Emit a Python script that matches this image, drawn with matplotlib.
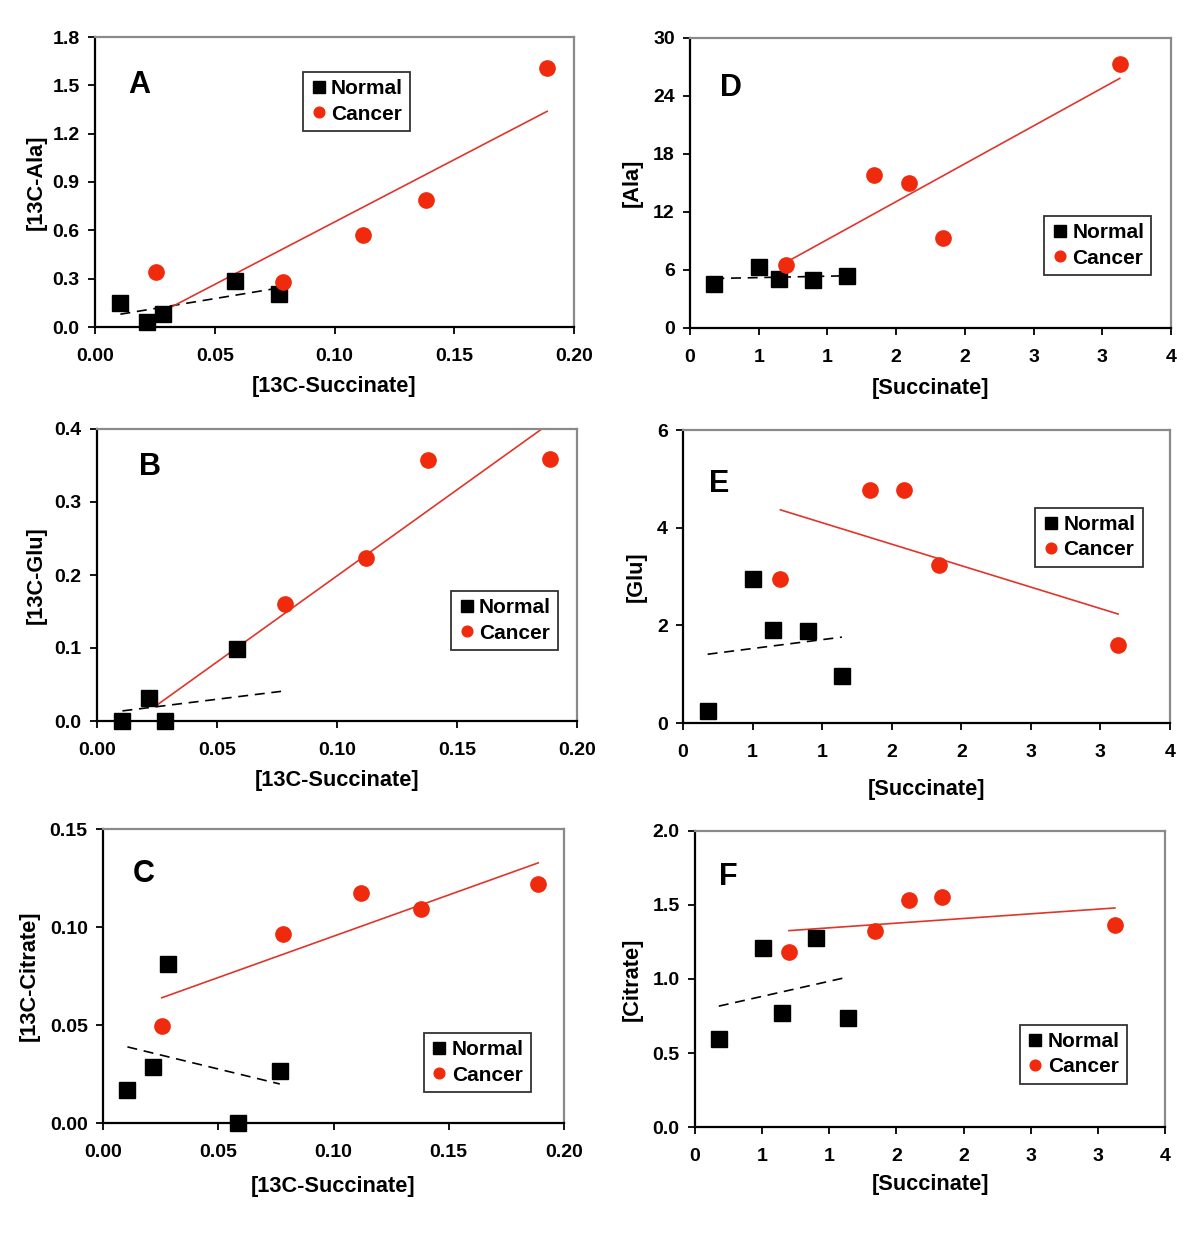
import numpy as np
import matplotlib
matplotlib.use("Agg")
import matplotlib.pyplot as plt

plt.rcParams['font.family'] = ['Liberation Sans', 'DejaVu Sans']
plt.rcParams['font.weight'] = 'bold'

# 13C labelled data (left column)
c13_succ_normal = [0.0106, 0.0218, 0.0282, 0.0584, 0.0767]
c13_succ_cancer = [0.0255, 0.0783, 0.1120, 0.1380, 0.1888]
c13_ala_normal = [0.151, 0.029, 0.081, 0.283, 0.204]
c13_ala_cancer = [0.343, 0.281, 0.570, 0.787, 1.606]
c13_glu_normal = [0.0, 0.032, 0.0, 0.098, -0.003]
c13_glu_cancer = [-0.005, 0.160, 0.223, 0.358, 0.3585]
c13_cit_normal = [0.0166, 0.0288, 0.0813, 0.0, 0.0266]
c13_cit_cancer = [0.0497, 0.0964, 0.1173, 0.109, 0.122]

# total concentrations (right column)
succ_normal = [0.177, 0.503, 0.645, 0.898, 1.142]
succ_cancer = [0.700, 1.342, 1.590, 1.843, 3.127]
ala_normal = [4.6, 6.27, 5.1, 4.96, 5.4]
ala_cancer = [6.5, 15.8, 15.05, 9.3, 27.35]
glu_normal = [0.244, 2.95, 1.90, 1.89, 0.957]
glu_cancer = [2.95, 4.78, 4.78, 3.24, 1.59]
cit_normal = [0.594, 1.209, 0.771, 1.279, 0.737]
cit_cancer = [1.182, 1.322, 1.534, 1.555, 1.363]

left_xticks = [0.0, 0.05, 0.10, 0.15, 0.20]
left_xticklabels = ['0.00', '0.05', '0.10', '0.15', '0.20']
right_xticks = [0.0, 0.5, 1.0, 1.5, 2.0, 2.5, 3.0, 3.5]
right_xticklabels = ['0', '1', '1', '2', '2', '3', '3', '4']

RED = '#F02A0C'
LINE_RED = '#E0352A'

fig = plt.figure(figsize=(12, 12.37), dpi=100)
W, H = 1200.0, 1237.0


def make_axes(left, right, top, bottom):
    return fig.add_axes([left / W, 1 - bottom / H, (right - left) / W, (bottom - top) / H])


def trend(ax, x, y, **kw):
    x = np.asarray(x)
    y = np.asarray(y)
    k, b = np.polyfit(x, y, 1)
    xs = np.array([x.min(), x.max()])
    ax.plot(xs, k * xs + b, **kw)


def panel(box, xn, yn, xc, yc, xlim, ylim, yticks, yfmt, xticks, xticklabels,
          letter, letter_pos, leg_pos, xlabel, ylabel, ylabel_x, xlabel_y):
    ax = make_axes(*box)
    w_px = box[1] - box[0]
    h_px = box[3] - box[2]
    xn, yn, xc, yc = map(np.asarray, (xn, yn, xc, yc))
    trend(ax, xn, yn, color='black', lw=1.2, ls=(0, (6, 4)), zorder=2)
    trend(ax, xc, yc, color=LINE_RED, lw=1.2, zorder=2)
    # excel hides points below the axis minimum
    mn = yn >= ylim[0]
    mc = yc >= ylim[0]
    ax.plot(xn[mn], yn[mn], 's', color='black', ms=11.5, ls='none',
            label='Normal', zorder=3, clip_on=False)
    ax.plot(xc[mc], yc[mc], 'o', color=RED, ms=11, ls='none',
            label='Cancer', zorder=4, clip_on=False)
    ax.set_xlim(*xlim)
    ax.set_ylim(*ylim)
    ax.set_xticks(xticks)
    ax.set_xticklabels(xticklabels)
    ax.set_yticks(yticks)
    ax.set_yticklabels([yfmt.format(v) for v in yticks])
    ax.tick_params(axis='both', direction='out', length=5, width=1.3,
                   labelsize=14, color='black')
    ax.tick_params(axis='x', pad=10)
    ax.tick_params(axis='y', pad=6)
    for s in ('left', 'bottom'):
        ax.spines[s].set_color('black')
        ax.spines[s].set_linewidth(1.6)
    for s in ('top', 'right'):
        ax.spines[s].set_color('#8a8a8a')
        ax.spines[s].set_linewidth(1.6)
    ax.set_xlabel(xlabel, fontsize=15.7, fontweight='bold')
    ax.set_ylabel(ylabel, fontsize=15.7, fontweight='bold')
    ax.yaxis.set_label_coords(ylabel_x + 10.0 / w_px, 0.5)
    ax.xaxis.set_label_coords(0.5, xlabel_y + 7.0 / h_px)
    ax.text(letter_pos[0], letter_pos[1], letter, transform=ax.transAxes,
            fontsize=22, fontweight='bold', ha='center', va='center')
    leg = ax.legend(loc='upper left', bbox_to_anchor=leg_pos, frameon=True,
                    fancybox=False, edgecolor='#333333', framealpha=1,
                    prop={'size': 15, 'weight': 'bold'}, handlelength=0.8,
                    handletextpad=0.2, borderpad=0.35, labelspacing=0.3,
                    markerscale=0.7, borderaxespad=0)
    leg.get_frame().set_linewidth(1.3)
    return ax


panel((95, 574, 37, 327), c13_succ_normal, c13_ala_normal, c13_succ_cancer, c13_ala_cancer,
      (0, 0.2), (0, 1.8), [0, 0.3, 0.6, 0.9, 1.2, 1.5, 1.8], '{:.1f}',
      left_xticks, left_xticklabels, 'A', (0.092, 0.834), (0.434, 0.879),
      '[13C-Succinate]', '[13C-Ala]', -0.121, -0.193)

panel((97, 577, 429, 721), c13_succ_normal, c13_glu_normal, c13_succ_cancer, c13_glu_cancer,
      (0, 0.2), (0, 0.4), [0, 0.1, 0.2, 0.3, 0.4], '{:.1f}',
      left_xticks, left_xticklabels, 'B', (0.11, 0.87), (0.7375, 0.445),
      '[13C-Succinate]', '[13C-Glu]', -0.125, -0.192)

panel((103, 564, 829, 1123), c13_succ_normal, c13_cit_normal, c13_succ_cancer, c13_cit_cancer,
      (0, 0.2), (0, 0.15), [0, 0.05, 0.10, 0.15], '{:.2f}',
      left_xticks, left_xticklabels, 'C', (0.089, 0.847), (0.696, 0.306),
      '[13C-Succinate]', '[13C-Citrate]', -0.158, -0.204)

panel((690, 1171, 38, 328), succ_normal, ala_normal, succ_cancer, ala_cancer,
      (0, 3.5), (0, 30), [0, 6, 12, 18, 24, 30], '{:d}',
      right_xticks, right_xticklabels, 'D', (0.085, 0.828), (0.736, 0.386),
      '[Succinate]', '[Ala]', -0.12, -0.197)

panel((683, 1170, 430, 723), succ_normal, glu_normal, succ_cancer, glu_cancer,
      (0, 3.5), (0, 6), [0, 2, 4, 6], '{:d}',
      right_xticks, right_xticklabels, 'E', (0.074, 0.816), (0.723, 0.734),
      '[Succinate]', '[Glu]', -0.094, -0.215)

panel((695, 1165, 831, 1127), succ_normal, cit_normal, succ_cancer, cit_cancer,
      (0, 3.5), (0, 2.0), [0, 0.5, 1.0, 1.5, 2.0], '{:.1f}',
      right_xticks, right_xticklabels, 'F', (0.07, 0.845), (0.691, 0.345),
      '[Succinate]', '[Citrate]', -0.132, -0.182)

fig.savefig('out.png', dpi=100, facecolor='white')
